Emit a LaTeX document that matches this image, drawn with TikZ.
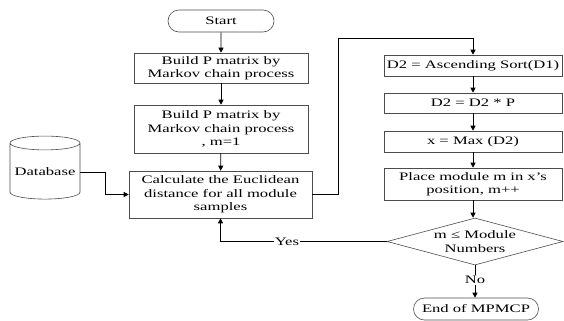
\documentclass[tikz,border=0pt]{standalone}
\usepackage{fontspec}
\setmainfont{Liberation Serif}[FakeStretch=1.45]
\usetikzlibrary{arrows.meta,shapes.geometric,shapes.misc}
\tikzset{
  procbox/.style={draw=black!70, line width=0.6pt, align=center, inner sep=1pt,
    font=\fontsize{11.5}{13.5}\selectfont},
  termbox/.style={procbox, rounded rectangle},
  arr/.style={-{Triangle[width=5bp,length=5bp]}, line width=0.8pt}
}
\begin{document}
\begin{tikzpicture}[x=1bp,y=-1bp]
  \useasboundingbox (0,0) rectangle (564,320);
  % left column
  \node[termbox, minimum width=108bp, minimum height=22bp] (start) at (221,21) {Start};
  \node[procbox, minimum width=174bp, minimum height=30bp] (build) at (221,68)
    {Build P matrix by\\Markov chain process};
  \node[procbox, minimum width=174bp, minimum height=48bp] (buildm) at (221,129)
    {Build P matrix by\\Markov chain process\\, m=1};
  \node[procbox, minimum width=183bp, minimum height=47bp] (calc) at (220.5,194.5)
    {Calculate the Euclidean\\distance for all module\\samples};
  \node[procbox, cylinder, shape border rotate=90, aspect=0.22,
    minimum width=70bp, minimum height=63bp] (db) at (45,172) {Database};
  % right column
  \node[procbox, minimum width=178bp, minimum height=21bp] (sort) at (473,65.5)
    {D2 = Ascending Sort(D1)};
  \node[procbox, minimum width=178bp, minimum height=20bp] (mult) at (473,103)
    {D2 = D2 * P};
  \node[procbox, minimum width=178bp, minimum height=21bp] (max) at (473,141.5)
    {x = Max (D2)};
  \node[procbox, minimum width=178bp, minimum height=32bp] (place) at (473,184)
    {Place module m in x's\\position, m++};
  \node[procbox, diamond, aspect=3.7, inner sep=0pt, minimum width=176bp,
    minimum height=47bp] (check) at (475,241.5) {m ≤ Module\\Numbers};
  \node[termbox, minimum width=127bp, minimum height=22bp] (stop) at (476,309)
    {End of MPMCP};
  \coordinate (turn) at (473,38);
  % connectors
  \draw[arr] (start) -- (build);
  \draw[arr] (build) -- (buildm);
  \draw[arr] (buildm) -- (calc);
  \draw[arr] (db.east) -- ++(25,0) |- (calc.west);
  \draw[arr] (calc.east) -- ++(26,0) |- (turn) -- (sort.north);
  \draw[arr] (sort) -- (mult);
  \draw[arr] (mult) -- (max);
  \draw[arr] (max) -- (place);
  \draw[arr] (place.south) -- (place.south |- check.north);
  \draw[arr] (check.west) -| node[pos=0.3, fill=white, inner sep=1pt,
    font=\fontsize{11.5}{13.5}\selectfont] {Yes} (calc.south);
  \draw[arr] (check.south) -- node[pos=0.45, fill=white, inner sep=1pt,
    font=\fontsize{11.5}{13.5}\selectfont] {No} (stop.north -| check.south);
\end{tikzpicture}
\end{document}
